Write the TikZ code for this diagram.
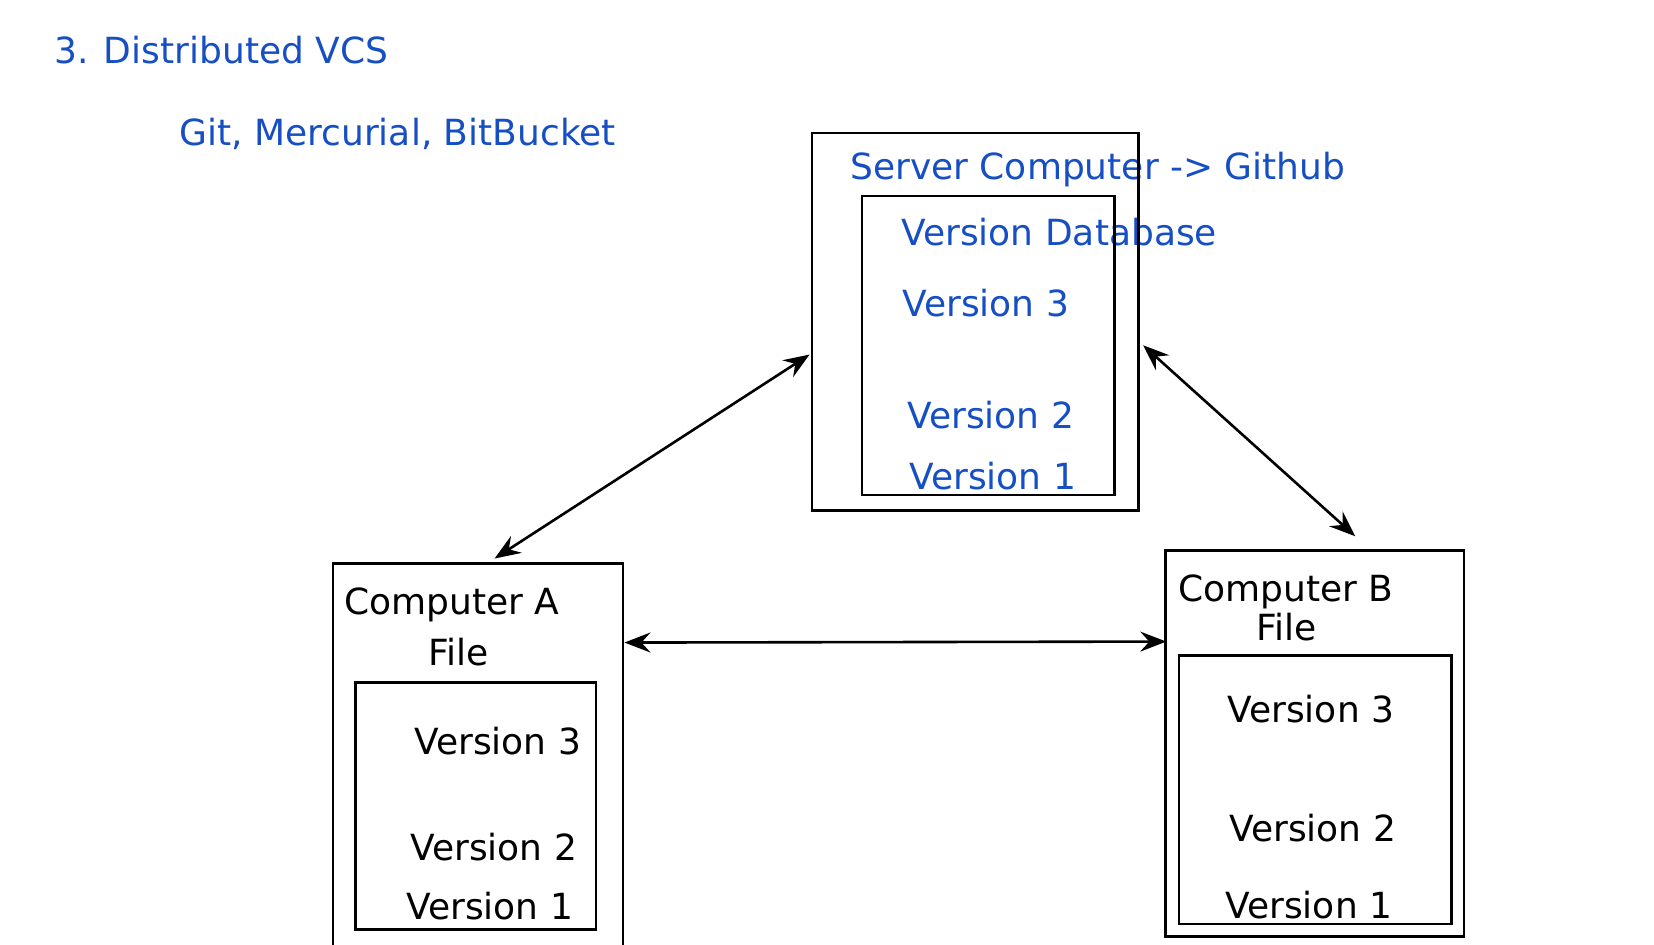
\documentclass[tikz,border=0pt]{standalone}
\usepackage{fontspec}
\setmainfont{DejaVu Sans}
\usetikzlibrary{arrows.meta,fit,calc}
\definecolor{vcsblue}{RGB}{22,78,196}
\begin{document}
\begin{tikzpicture}[x=0.5pt,y=-0.5pt,
  box/.style={draw, line width=1.45pt, inner sep=0pt},
  lbl/.style={anchor=base west, inner sep=0pt, font=\fontsize{18}{21.6}\selectfont},
  blu/.style={lbl, text=vcsblue},
  tipstyle/.tip={Stealth[length=13pt,width=10pt,inset=4.5pt]},
  conn/.style={line width=1.3pt, tipstyle-tipstyle}]
\useasboundingbox (0,0) rectangle (1654,944);
\clip (0,0) rectangle (1654,944);
% titles
\node[blu] (title) at (54,63.3) {3. Distributed VCS};
\node[blu] (tools) at (179,145) {Git, Mercurial, BitBucket};
% server texts
\node[blu] (srvt) at (850,179.3) {Server Computer -> Github};
\node[blu] (vdb) at (901,245) {Version Database};
\node[blu] (sv3) at (902,316.7) {Version 3};
\node[blu] (sv2) at (907,428.3) {Version 2};
\node[blu] (sv1) at (909,489.3) {Version 1};
% computer A texts
\node[lbl] (at) at (344,614) {Computer A};
\node[lbl] (af) at (428,665.7) {File};
\node[lbl] (av3) at (414,754) {Version 3};
\node[lbl] (av2) at (410,860) {Version 2};
\node[lbl] (av1) at (406,919.3) {Version 1};
% computer B texts
\node[lbl] (bt) at (1178,601.7) {Computer B};
\node[lbl] (bf) at (1256,640) {File};
\node[lbl] (bv3) at (1227,722) {Version 3};
\node[lbl] (bv2) at (1229,841.7) {Version 2};
\node[lbl] (bv1) at (1225,918) {Version 1};
% boxes
\node[box, fit={(812,133) (1138.5,510.5)}] (srv) {};
\node[box, fit={(862,196) (1114.3,495)}] (srvin) {};
\node[box, fit={(333,563.5) (623,990)}] (aout) {};
\node[box, fit={(355.7,682.7) (596,929.3)}] (ain) {};
\node[box, fit={(1165.7,550.7) (1464,936.7)}] (bout) {};
\node[box, fit={(1179,655.7) (1451.7,924)}] (bin) {};
% connector end points
\coordinate (sa) at ($(srv.north west)+(-1,223)$);
\coordinate (as) at ($(aout.north west)+(163,-3.5)$);
\coordinate (ab) at ($(aout.north east)+(0,80.5)$);
\coordinate (ba) at ($(bout.north west)+(2,92.3)$);
\coordinate (sb) at ($(srv.north east)+(3.2,213.7)$);
\coordinate (bs) at ($(bout.north west)+(191,-13)$);
% connectors
\draw[conn] (sa) -- (as);
\draw[conn] (ab) -- (ba);
\draw[conn] (sb) -- (bs);
\end{tikzpicture}
\end{document}
